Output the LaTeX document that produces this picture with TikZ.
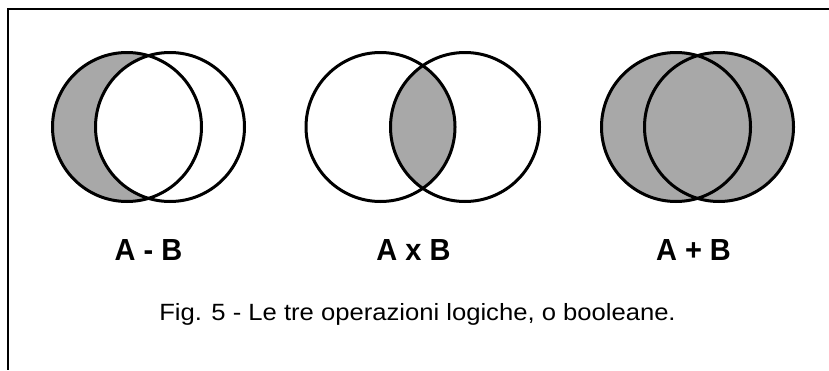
\documentclass[tikz,border=0pt]{standalone}
\usepackage{fontspec}
\setmainfont{Liberation Sans}
\definecolor{venngray}{RGB}{168,168,168}
\begin{document}
\begin{tikzpicture}[x=1pt,y=-1pt,
  ring/.style={draw=black,line width=3pt},
  frameline/.style={draw=black,line width=2pt},
  oplabel/.style={anchor=base,inner sep=0pt,font=\fontsize{30.5}{34}\selectfont\bfseries},
  caption/.style={anchor=base,inner sep=0pt,font=\fontsize{23.5}{28}\selectfont}]
\useasboundingbox (0,0) rectangle (829,370);
\fill[white] (0,0) rectangle (829,370);
% frame
\draw[frameline] (829,9) -- (8,9) -- (8,370);
\def\R{74.5}
% A - B
\fill[venngray] (127,127) circle[radius=\R];
\fill[white] (170,127) circle[radius=\R];
\draw[ring] (127,127) circle[radius=\R];
\draw[ring] (170,127) circle[radius=\R];
% A x B
\begin{scope}
  \clip (380.5,127) circle[radius=\R];
  \fill[venngray] (465,127) circle[radius=\R];
\end{scope}
\draw[ring] (380.5,127) circle[radius=\R];
\draw[ring] (465,127) circle[radius=\R];
% A + B
\fill[venngray] (676,127) circle[radius=\R];
\fill[venngray] (719,127) circle[radius=\R];
\draw[ring] (676,127) circle[radius=\R];
\draw[ring] (719,127) circle[radius=\R];
% labels
\node[oplabel] (lab1) at (148.5,260) {\scalebox{0.95}[1]{A - B}};
\node[oplabel] (lab2) at (413.5,260) {\scalebox{0.95}[1]{A x B}};
\node[oplabel] (lab3) at (693.5,260) {\scalebox{0.95}[1]{A + B}};
\node[caption] (cap) at (417.5,320) {\scalebox{1.09}[1]{Fig. 5 - Le tre operazioni logiche, o booleane.}};
\end{tikzpicture}
\end{document}
